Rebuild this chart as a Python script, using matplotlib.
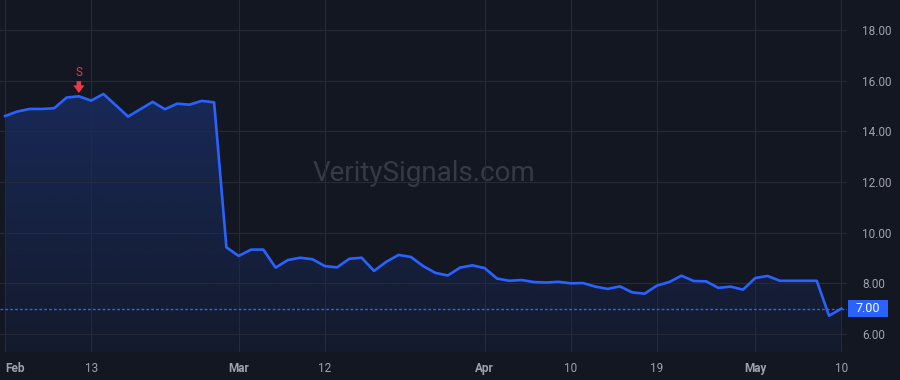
import matplotlib
matplotlib.use("Agg")
import matplotlib.pyplot as plt
import matplotlib.transforms as mtransforms
from matplotlib.patches import Rectangle
import numpy as np
import pandas as pd

# ------------------------------------------------------------
# data: daily closes, 2024 trading days Feb 2 -> May 10
dates = pd.bdate_range("2024-02-02", "2024-05-10")
dates = dates.drop(pd.to_datetime(["2024-02-19", "2024-03-29"]))

prices = [14.60, 14.78, 14.88, 14.88, 14.91, 15.33, 15.38, 15.21, 15.47, 15.03,
          14.58, 14.87, 15.16, 14.87, 15.09, 15.05, 15.20, 15.14, 9.42, 9.08,
          9.33, 9.33, 8.62, 8.92, 9.01, 8.95, 8.68, 8.63, 8.97, 9.01,
          8.49, 8.85, 9.12, 9.04, 8.68, 8.41, 8.31, 8.62, 8.71, 8.60,
          8.19, 8.10, 8.13, 8.05, 8.03, 8.06, 8.00, 8.01, 7.87, 7.78,
          7.88, 7.64, 7.59, 7.91, 8.05, 8.30, 8.09, 8.08, 7.82, 7.87,
          7.75, 8.21, 8.29, 8.10, 8.10, 8.10, 8.10, 6.72, 7.00]

tick_dates = ["2024-02-02", "2024-02-13", "2024-03-01", "2024-03-12", "2024-04-01",
              "2024-04-10", "2024-04-19", "2024-05-01", "2024-05-10"]
tick_labels = ["Feb", "13", "Mar", "12", "Apr", "10", "19", "May", "10"]
month_labels = {"Feb", "Mar", "Apr", "May"}

y_ticks = [6, 8, 10, 12, 14, 16, 18]
signal_date = "2024-02-12"
signal_text = "S"
last_price = prices[-1]
watermark = "VeritySignals.com"

# ------------------------------------------------------------
bg = "#131722"
grid_c = "#262a36"
line_c = "#2962ff"
text_c = "#9fa2ab"
sell_c = "#f23645"

plt.rcParams["font.family"] = ["Roboto", "DejaVu Sans"]

x = np.arange(len(prices))
y = np.array(prices)

fig = plt.figure(figsize=(9, 3.8), dpi=100, facecolor=bg)
ax = fig.add_axes([0, 28 / 380, 847 / 900, 352 / 380], facecolor=bg)

ymin, ymax = 5.29, 19.18
ax.set_xlim(-0.41, 68.46)
ax.set_ylim(ymin, ymax)

# gradient area under the line
poly = ax.fill_between(x, y, ymin, color="none", lw=0)
grad = np.zeros((100, 1, 4))
grad[:, 0, :3] = np.array([41, 98, 255]) / 255
grad[:, 0, 3] = np.linspace(0.24, 0.05, 100)
img = ax.imshow(grad, aspect="auto", extent=[x[0], x[-1], ymin, y.max()],
                origin="upper", zorder=1)
img.set_clip_path(poly.get_paths()[0], transform=ax.transData)

ax.plot(x, y, color=line_c, lw=1.9, zorder=3, solid_joinstyle="round")

# last price dotted line + label box on the price scale
ax.axhline(last_price, color=line_c, lw=1, ls=(0, (2, 1.5)), zorder=2)
trans = mtransforms.blended_transform_factory(ax.transAxes, ax.transData)
box_h = 17 / 25.33
ax.add_patch(Rectangle((1.0 + 1 / 847, last_price - box_h / 2), 40 / 847, box_h,
                       transform=trans, fc=line_c, ec="none", clip_on=False, zorder=5))
ax.text(1.0 + 21 / 847, last_price, f"{last_price:.2f}", transform=trans,
        ha="center", va="center", color="white", fontsize=9, clip_on=False, zorder=6)

# sell signal
sx = dates.get_loc(pd.Timestamp(signal_date))
ax.annotate("", xy=(x[sx], y[sx] + 0.13), xytext=(x[sx], y[sx] + 0.60),
            arrowprops=dict(arrowstyle="simple,head_width=0.8,head_length=0.55,tail_width=0.32",
                            fc=sell_c, ec="none", shrinkA=0, shrinkB=0), zorder=4)
ax.text(x[sx], y[sx] + 0.92, signal_text, color=sell_c, fontsize=8.5,
        ha="center", va="center", zorder=4)

# watermark
ax.text(0.5, 0.508, watermark, transform=ax.transAxes, ha="center", va="center",
        fontsize=20, color="#363a47", zorder=0)

# axes
xt = [dates.get_loc(pd.Timestamp(d)) for d in tick_dates]
ax.set_xticks(xt)
ax.set_xticklabels(tick_labels)
for lab in ax.get_xticklabels():
    if lab.get_text() in month_labels:
        lab.set_fontweight("bold")
ax.get_xticklabels()[0].set_horizontalalignment("left")
ax.get_xticklabels()[0].set_x(-0.41)

ax.set_yticks(y_ticks)
ax.set_yticklabels([f"{v:.2f}" for v in y_ticks])
ax.yaxis.tick_right()
ax.tick_params(axis="both", length=0, colors=text_c, labelsize=8.5)
ax.tick_params(axis="y", pad=11)
ax.tick_params(axis="x", pad=7)
ax.grid(True, color=grid_c, lw=0.8)
for s in ax.spines.values():
    s.set_visible(False)

fig.savefig("out.png", dpi=100, facecolor=bg)
